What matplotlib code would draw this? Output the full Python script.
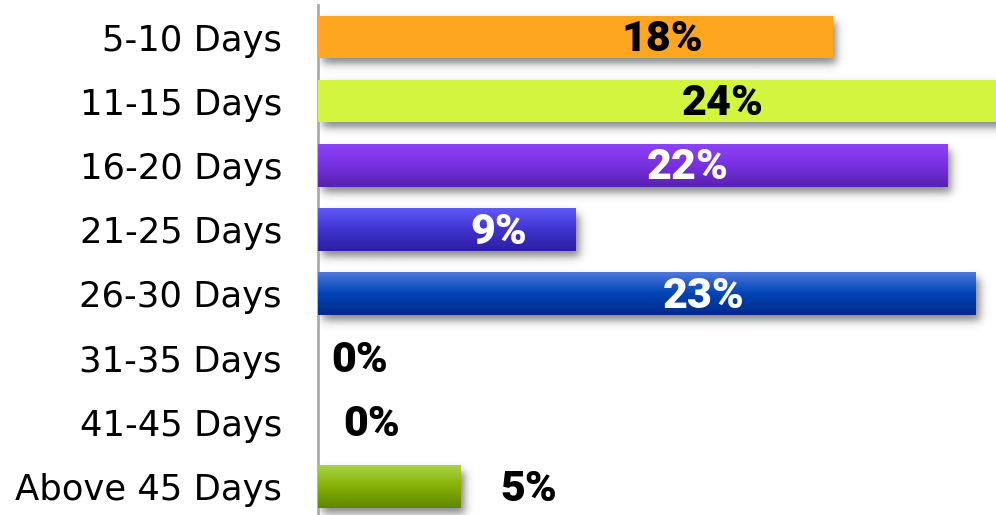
import matplotlib.pyplot as plt
import numpy as np
from matplotlib.colors import LinearSegmentedColormap, to_rgb

# Data
categories = ['5-10 Days', '11-15 Days', '16-20 Days', '21-25 Days',
              '26-30 Days', '31-35 Days', '41-45 Days', 'Above 45 Days']
shares = [18, 24, 22, 9, 23, 0, 0, 5]
label_pos = [12.03, 14.16, 12.94, 6.33, 13.5, 1.47, 1.89, 7.38]
label_colors = ['black', 'black', 'white', 'white', 'white', 'black', 'black', 'black']

# top -> bottom colour stops for each bar
bar_grads = [
    ['#FFA621', '#FFA621'],
    ['#D3F53D', '#D3F53D'],
    ['#8C43F7', '#7831E2', '#5822AC'],
    ['#605AF8', '#3F33D0', '#2C1EA2'],
    ['#4F78DC', '#0044B6', '#002A88'],
    ['#A8D24C', '#86B000', '#5E8700'],
    ['#A8D24C', '#86B000', '#5E8700'],
    ['#A8D24C', '#86B000', '#5E8700'],
]

W, H = 996, 515
fig = plt.figure(figsize=(W / 100, H / 100), dpi=100)
ax = fig.add_axes([318 / W, 0, 678 / W, 1])

xmax = 678 / 28.6
ymin, ymax = -0.576, 7.44
px_x = xmax / 678          # data units per pixel
px_y = (ymax - ymin) / H

y = np.arange(len(categories))
bars = ax.barh(y, shares, height=0.655, color=[g[0] for g in bar_grads], zorder=3)

# soft drop shadows
for rect in bars:
    if rect.get_width() <= 0:
        continue
    x0, w = rect.get_x(), rect.get_width()
    y0, h = rect.get_y(), rect.get_height()
    ox, oy, s = 4 * px_x, 6 * px_y, 5.0
    xa, xb = x0 + ox, x0 + w + ox
    ya, yb = y0 + oy, y0 + h + oy
    ex = [xa - 18 * px_x, xb + 18 * px_x, yb + 18 * px_y, ya - 18 * px_y]
    xs = np.linspace(ex[0], ex[1], 400)
    ys = np.linspace(ex[3], ex[2], 80)
    gx = 0.5 * (np.tanh((xs - xa) / (s * px_x)) - np.tanh((xs - xb) / (s * px_x)))
    gy = 0.5 * (np.tanh((ys - ya) / (s * px_y)) - np.tanh((ys - yb) / (s * px_y)))
    alpha = np.outer(gy, gx) * 0.6
    img = np.zeros((len(ys), len(xs), 4))
    img[..., :3] = 0.22
    img[..., 3] = alpha
    ax.imshow(img, extent=[ex[0], ex[1], ex[3], ex[2]], origin='upper',
              aspect='auto', zorder=2, interpolation='bilinear')

# vertical gradients on the bars
for rect, stops in zip(bars, bar_grads):
    if rect.get_width() <= 0 or len(set(stops)) == 1:
        continue
    cmap = LinearSegmentedColormap.from_list('g', [to_rgb(c) for c in stops])
    grad = np.linspace(0, 1, 100).reshape(-1, 1)
    x0, w = rect.get_x(), rect.get_width()
    y0, h = rect.get_y(), rect.get_height()
    ax.imshow(grad, cmap=cmap, extent=[x0, x0 + w, y0 + h, y0], origin='upper',
              aspect='auto', zorder=4, interpolation='bilinear')

for yi, v, lx, c in zip(y, shares, label_pos, label_colors):
    ax.text(lx, yi + 2.5 * px_y, f'{v}%', ha='center', va='center', color=c,
            fontsize=31, fontweight='heavy', family='Roboto', zorder=5)

ax.set_xlim(0, xmax)
ax.set_ylim(ymax, ymin)
ax.set_yticks(y)
ax.set_yticklabels(categories, fontsize=25.5, family='DejaVu Sans')
ax.tick_params(axis='y', length=0, pad=26)
ax.set_xticks([])
for side in ['top', 'right', 'bottom']:
    ax.spines[side].set_visible(False)
ax.spines['left'].set_color('#ABABAB')
ax.spines['left'].set_linewidth(2)
ax.spines['left'].set_bounds(-0.5, ymax)
ax.patch.set_alpha(0)

fig.savefig('out.png', dpi=100)
